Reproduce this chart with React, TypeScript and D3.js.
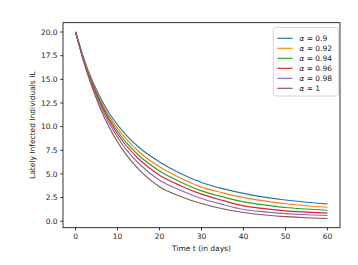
import React from "react";
import * as d3 from "d3";

const times = [0, 2, 4, 6, 8, 10, 12, 15, 20, 25, 30, 35, 40, 45, 50, 55, 60];
const alphas = ["0.9", "0.92", "0.94", "0.96", "0.98", "1"];
const s090 = [20, 17.13, 14.84, 12.97, 11.44, 10.18, 9.13, 7.84, 6.27, 5.05, 4.1, 3.45, 2.95, 2.55, 2.24, 2.01, 1.83];
const s092 = [20, 17.06, 14.69, 12.74, 11.14, 9.82, 8.72, 7.37, 5.75, 4.56, 3.6, 3.0, 2.5, 2.15, 1.85, 1.64, 1.48];
const s094 = [20, 17.0, 14.56, 12.54, 10.89, 9.51, 8.36, 6.97, 5.32, 4.15, 3.21, 2.58, 2.04, 1.72, 1.45, 1.29, 1.16];
const s096 = [20, 16.94, 14.43, 12.36, 10.65, 9.22, 8.03, 6.6, 4.87, 3.76, 2.86, 2.2, 1.62, 1.33, 1.1, 0.96, 0.85];
const s098 = [20, 16.87, 14.28, 12.13, 10.35, 8.86, 7.62, 6.13, 4.34, 3.28, 2.4, 1.77, 1.24, 0.99, 0.8, 0.68, 0.6];
const s100 = [20, 16.77, 14.07, 11.82, 9.94, 8.37, 7.06, 5.5, 3.64, 2.62, 1.87, 1.32, 0.92, 0.66, 0.49, 0.37, 0.29];
const series = [s090, s092, s094, s096, s098, s100];
const colors = ["#1f77b4", "#ff7f0e", "#2ca02c", "#d62728", "#9467bd", "#8c564b"];
const xTicks = [0, 10, 20, 30, 40, 50, 60];
const yTicks = [0, 2.5, 5, 7.5, 10, 12.5, 15, 17.5, 20];

export default function App() {
  const W = 358, H = 265;
  const L = 63, R = 340, T = 22.7, B = 227.7;
  const x = d3.scaleLinear().domain([-3, 63]).range([L, R]);
  const y = d3.scaleLinear().domain([-0.685, 20.985]).range([B, T]);
  const line = d3
    .line<number>()
    .x((_, i) => x(times[i]))
    .y((d) => y(d))
    .curve(d3.curveMonotoneX);
  const font = "DejaVu Sans";
  return (
    <svg width={W} height={H} style={{ position: "absolute", left: 0, top: 0 }} fontFamily={font}>
      <rect width={W} height={H} fill="#fff" />
      <defs>
        <clipPath id="clip">
          <rect x={L} y={T} width={R - L} height={B - T} />
        </clipPath>
      </defs>
      <g clipPath="url(#clip)">
        {series.map((s, i) => (
          <path key={i} d={line(s) || ""} fill="none" stroke={colors[i]} strokeWidth={1.15} />
        ))}
      </g>
      <rect x={L} y={T} width={R - L} height={B - T} fill="none" stroke="#000" strokeWidth={0.8} />
      {xTicks.map((t) => (
        <g key={t}>
          <line x1={x(t)} x2={x(t)} y1={B} y2={B + 2.7} stroke="#000" strokeWidth={0.8} />
          <text x={x(t)} y={B + 10.8} fontSize={7.5} textAnchor="middle" fill="#222">
            {t}
          </text>
        </g>
      ))}
      {yTicks.map((t) => (
        <g key={t}>
          <line x1={L - 2.7} x2={L} y1={y(t)} y2={y(t)} stroke="#000" strokeWidth={0.8} />
          <text x={L - 5.4} y={y(t) + 2.7} fontSize={7.5} textAnchor="end" fill="#222">
            {t.toFixed(1)}
          </text>
        </g>
      ))}
      <text x={(L + R) / 2} y={250.5} fontSize={7.5} textAnchor="middle" fill="#222">
        Time t (in days)
      </text>
      <text
        transform={`translate(${35},${(T + B) / 2}) rotate(-90)`}
        fontSize={7.5}
        textAnchor="middle"
        fill="#222"
      >
        Lately Infected Individuals IL
      </text>
      <rect x={273.3} y={27.5} width={65} height={68.5} rx={2} fill="#fff" fillOpacity={0.8} stroke="#ccc" strokeWidth={0.8} />
      {alphas.map((a, i) => {
        const yy = 38.3 + i * 10;
        return (
          <g key={a}>
            <line x1={277.3} x2={292.7} y1={yy} y2={yy} stroke={colors[i]} strokeWidth={1.15} />
            <text x={299.3} y={yy + 2.7} fontSize={7.5} fill="#222">
              <tspan fontStyle="italic">α</tspan> = {a}
            </text>
          </g>
        );
      })}
    </svg>
  );
}
